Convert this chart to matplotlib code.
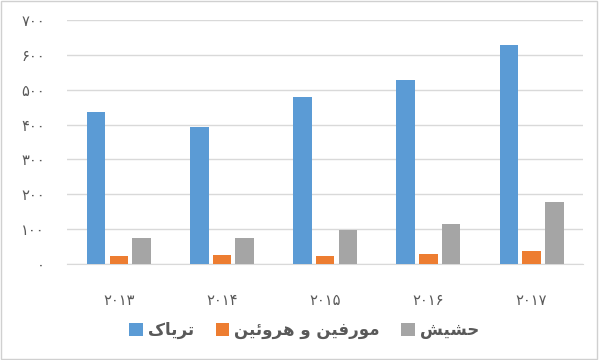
import numpy as np
import matplotlib.pyplot as plt
from matplotlib.patches import Rectangle

# Data
years = ["2013", "2014", "2015", "2016", "2017"]
opium = [436, 393, 479, 528, 630]
morphine_heroin = [22, 26, 22, 29, 37]
hashish = [75, 75, 97, 115, 179]
series_names = ["تریاک", "مورفین و هروئین", "حشیش"]
y_ticks = [0, 100, 200, 300, 400, 500, 600, 700]

colors = ["#5B9BD5", "#ED7D31", "#A5A5A5"]

# Arabic/Persian letter forms: isolated, final, initial, medial
FORMS = {
    "ت": ("\uFE95", "\uFE96", "\uFE97", "\uFE98"),
    "ر": ("\uFEAD", "\uFEAE", None, None),
    "ی": ("\uFBFC", "\uFBFD", "\uFBFE", "\uFBFF"),
    "ا": ("\uFE8D", "\uFE8E", None, None),
    "ک": ("\uFB8E", "\uFB8F", "\uFB90", "\uFB91"),
    "م": ("\uFEE1", "\uFEE2", "\uFEE3", "\uFEE4"),
    "و": ("\uFEED", "\uFEEE", None, None),
    "ف": ("\uFED1", "\uFED2", "\uFED3", "\uFED4"),
    "ن": ("\uFEE5", "\uFEE6", "\uFEE7", "\uFEE8"),
    "ه": ("\uFEE9", "\uFEEA", "\uFEEB", "\uFEEC"),
    "ئ": ("\uFE89", "\uFE8A", "\uFE8B", "\uFE8C"),
    "ح": ("\uFEA1", "\uFEA2", "\uFEA3", "\uFEA4"),
    "ش": ("\uFEB5", "\uFEB6", "\uFEB7", "\uFEB8"),
}


def shape(text):
    # minimal joining + right-to-left ordering for matplotlib
    out = []
    for i, ch in enumerate(text):
        if ch not in FORMS:
            out.append(ch)
            continue
        f = FORMS[ch]
        prev = text[i - 1] if i > 0 else ""
        nxt = text[i + 1] if i + 1 < len(text) else ""
        join_prev = prev in FORMS and FORMS[prev][2] is not None
        join_next = f[2] is not None and nxt in FORMS
        if join_prev and join_next:
            out.append(f[3])
        elif join_prev:
            out.append(f[1])
        elif join_next:
            out.append(f[2])
        else:
            out.append(f[0])
    return "".join(reversed(out))


def fa_digits(s):
    return str(s).translate(str.maketrans("0123456789", "۰۱۲۳۴۵۶۷۸۹"))


plt.rcParams["font.family"] = ["DejaVu Sans"]
text_color = "#595959"

fig = plt.figure(figsize=(6, 3.6), dpi=100)
ax = fig.add_axes([0.112, 0.267, 0.86, 0.677])

x = np.arange(len(years))
width = 0.18
offsets = [-0.22, 0.0, 0.22]
for vals, off, c, name in zip([opium, morphine_heroin, hashish], offsets, colors, series_names):
    ax.bar(x + off, vals, width, color=c, label=shape(name), zorder=3)

ax.set_xlim(-0.5, len(years) - 0.5)
ax.set_ylim(0, 700)
ax.set_yticks(y_ticks)
ax.set_yticklabels([fa_digits(v) for v in y_ticks], fontsize=10.5, color=text_color)
ax.set_xticks(x)
ax.set_xticklabels([fa_digits(y) for y in years], fontsize=10.5, color=text_color)
ax.tick_params(axis="both", length=0)
ax.tick_params(axis="x", pad=21)
ax.tick_params(axis="y", pad=16)
ax.grid(axis="y", color="#D9D9D9", linewidth=1, zorder=0)
for s in ["top", "right", "left"]:
    ax.spines[s].set_visible(False)
ax.spines["bottom"].set_color("#D9D9D9")

leg = fig.legend(loc="center", bbox_to_anchor=(0.507, 0.083), ncol=3, frameon=False,
                 fontsize=12, handlelength=0.8, handleheight=0.8, handletextpad=0.3,
                 columnspacing=1.3)
for t in leg.get_texts():
    t.set_color(text_color)
    t.set_fontweight("bold")

# light border around the chart area
fig.patches.append(Rectangle((0.002, 0.004), 0.993, 0.992, transform=fig.transFigure,
                             fill=False, edgecolor="#D0D0D0", linewidth=1))

fig.savefig("out.png", dpi=100)
